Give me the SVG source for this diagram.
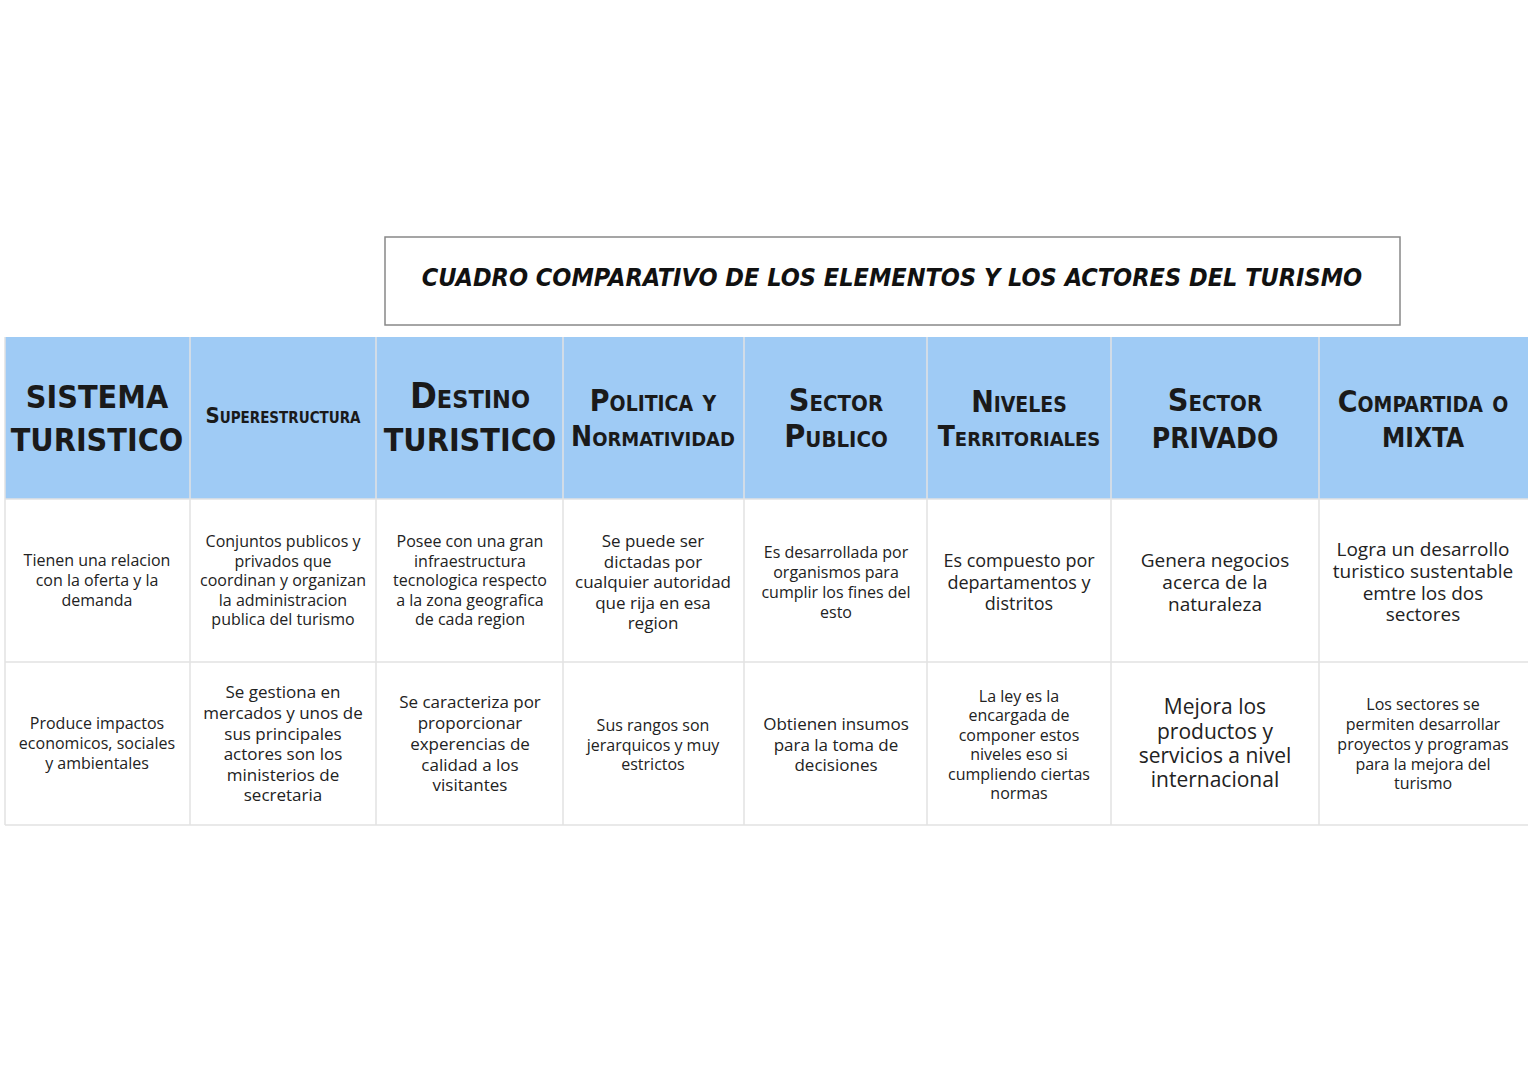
<svg xmlns="http://www.w3.org/2000/svg" width="1528" height="1080" viewBox="0 0 1528 1080">
<style>
.h{font-family:"DejaVu Sans Condensed","DejaVu Sans",sans-serif;font-weight:bold;fill:#1a1a1a;text-anchor:middle;font-variant:small-caps}
.c{font-family:"Open Sans","Liberation Sans",sans-serif;fill:#222;text-anchor:middle;font-size:16px}
.g{stroke:#e2e2e2;stroke-width:1.5;fill:none}
</style>
<rect width="1528" height="1080" fill="#fff"/>
<rect x="385" y="237" width="1015" height="88" fill="#fff" stroke="#888" stroke-width="1.5"/>
<text x="892" y="286" font-family="DejaVu Sans Condensed,sans-serif" font-weight="bold" font-style="italic" font-size="25" text-anchor="middle" fill="#111">CUADRO COMPARATIVO DE LOS ELEMENTOS Y LOS ACTORES DEL TURISMO</text>
<rect x="5" y="337" width="1523" height="162" fill="#9fcbf5"/>
<g class="g">
<path d="M5 337V825M190 337V825M376 337V825M563 337V825M744 337V825M927 337V825M1111 337V825M1319 337V825"/>
<path d="M5 499H1528M5 662H1528M5 825H1528"/>
</g>
<g class="h">
<text x="97" y="408" font-size="32">SISTEMA</text><text x="97" y="451" font-size="32">TURISTICO</text>
<text x="283" y="423" font-size="22">Superestructura</text>
<text x="470" y="408" font-size="36">Destino</text><text x="470" y="451" font-size="32">TURISTICO</text>
<text x="653" y="411" font-size="30">Politica y</text><text x="653" y="446" font-size="28">Normatividad</text>
<text x="836" y="411" font-size="32">Sector</text><text x="836" y="447" font-size="32">Publico</text>
<text x="1019" y="412" font-size="30">Niveles</text><text x="1019" y="446" font-size="28">Territoriales</text>
<text x="1215" y="411" font-size="32">Sector</text><text x="1215" y="448" font-size="28">PRIVADO</text>
<text x="1423" y="412" font-size="30">Compartida o</text><text x="1423" y="447" font-size="26">MIXTA</text>
</g>
<g class="c">
<text x="97" y="566">Tienen una relacion</text><text x="97" y="586">con la oferta y la</text><text x="97" y="606">demanda</text>
<text x="283" y="547">Conjuntos publicos y</text><text x="283" y="567">privados que</text><text x="283" y="586">coordinan y organizan</text><text x="283" y="606">la administracion</text><text x="283" y="625">publica del turismo</text>
<text x="470" y="547">Posee con una gran</text><text x="470" y="567">infraestructura</text><text x="470" y="586">tecnologica respecto</text><text x="470" y="606">a la zona geografica</text><text x="470" y="625">de cada region</text>
<text x="653" y="547" font-size="17">Se puede ser</text><text x="653" y="568" font-size="17">dictadas por</text><text x="653" y="588" font-size="17">cualquier autoridad</text><text x="653" y="609" font-size="17">que rija en esa</text><text x="653" y="629" font-size="17">region</text>
<text x="836" y="558">Es desarrollada  por</text><text x="836" y="578">organismos para</text><text x="836" y="598">cumplir los fines del</text><text x="836" y="618">esto</text>
<text x="1019" y="567" font-size="18">Es compuesto por</text><text x="1019" y="589" font-size="18">departamentos y</text><text x="1019" y="610" font-size="18">distritos</text>
<text x="1215" y="567" font-size="19">Genera negocios</text><text x="1215" y="589" font-size="19">acerca de la</text><text x="1215" y="611" font-size="19">naturaleza</text>
<text x="1423" y="556" font-size="19">Logra un desarrollo</text><text x="1423" y="578" font-size="19">turistico sustentable</text><text x="1423" y="600" font-size="19">emtre los dos</text><text x="1423" y="621" font-size="19">sectores</text>
<text x="97" y="729">Produce impactos</text><text x="97" y="749">economicos, sociales</text><text x="97" y="769">y ambientales</text>
<text x="283" y="698" font-size="17">Se gestiona en</text><text x="283" y="719" font-size="17">mercados y unos de</text><text x="283" y="740" font-size="17">sus principales</text><text x="283" y="760" font-size="17">actores son los</text><text x="283" y="781" font-size="17">ministerios de</text><text x="283" y="801" font-size="17">secretaria</text>
<text x="470" y="708" font-size="17">Se caracteriza por</text><text x="470" y="729" font-size="17">proporcionar</text><text x="470" y="750" font-size="17">experencias de</text><text x="470" y="771" font-size="17">calidad a los</text><text x="470" y="791" font-size="17">visitantes</text>
<text x="653" y="731">Sus rangos son</text><text x="653" y="751">jerarquicos y muy</text><text x="653" y="770">estrictos</text>
<text x="836" y="730" font-size="17">Obtienen insumos</text><text x="836" y="751" font-size="17">para  la toma de</text><text x="836" y="771" font-size="17">decisiones</text>
<text x="1019" y="702">La ley es la</text><text x="1019" y="721">encargada de</text><text x="1019" y="741">componer estos</text><text x="1019" y="760">niveles eso si</text><text x="1019" y="780">cumpliendo ciertas</text><text x="1019" y="799">normas</text>
<text x="1215" y="714" font-size="21">Mejora los</text><text x="1215" y="739" font-size="21">productos y</text><text x="1215" y="763" font-size="21">servicios a nivel</text><text x="1215" y="787" font-size="21">internacional</text>
<text x="1423" y="710">Los sectores se</text><text x="1423" y="730">permiten desarrollar</text><text x="1423" y="750">proyectos y programas</text><text x="1423" y="770">para la mejora del</text><text x="1423" y="789">turismo</text>
</g>
</svg>
